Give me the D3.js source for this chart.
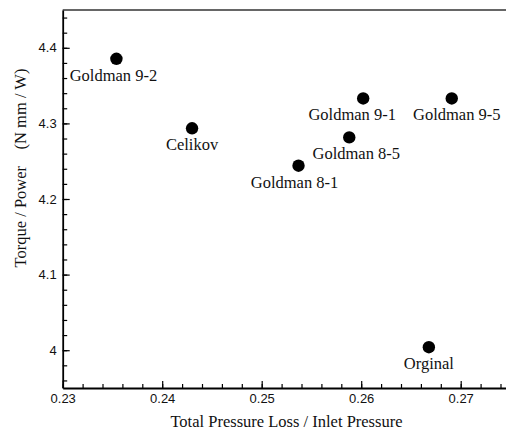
<!DOCTYPE html>
<html>
<head>
<meta charset="utf-8">
<script src="https://cdn.jsdelivr.net/npm/d3@7"></script>
<style>
  html, body { margin: 0; padding: 0; background: #fff; }
  svg { display: block; }
</style>
</head>
<body>
<script>
// ---- data ----
const names = ["Goldman 9-2", "Celikov", "Goldman 8-1", "Goldman 8-5", "Goldman 9-1", "Goldman 9-5", "Orginal"];
const pressureLoss = [0.2354, 0.2430, 0.2537, 0.2588, 0.2602, 0.2691, 0.2668];
const torquePower = [4.3855, 4.2935, 4.2440, 4.2815, 4.3330, 4.3330, 4.0040];
const xTickValues = [0.23, 0.24, 0.25, 0.26, 0.27];
const xTickLabels = ["0.23", "0.24", "0.25", "0.26", "0.27"];
const yTickValues = [4.0, 4.1, 4.2, 4.3, 4.4];
const yTickLabels = ["4", "4.1", "4.2", "4.3", "4.4"];
const xTitle = "Total Pressure Loss / Inlet Pressure";
const yTitle = "Torque / Power    (N mm / W)";

(function () {
// ---- layout (not data) ----
const W = 506, H = 432;
const mLeft = 62.7, mTop = 10, mBottom = 388;
const labelShift = {"Goldman 9-2": -3, "Celikov": 0, "Goldman 8-1": -4, "Goldman 8-5": 7, "Goldman 9-1": -11, "Goldman 9-5": 5, "Orginal": 0};

const x = d3.scaleLinear().domain([0.23, 0.275]).range([mLeft, mLeft + 0.045 * 9950]);
const y = d3.scaleLinear().domain([3.95, 4.45]).range([mBottom, mTop]);

const svg = d3.select("body").append("svg").attr("width", W).attr("height", H);

// top frame line
svg.append("line")
  .attr("x1", mLeft).attr("x2", W).attr("y1", mTop).attr("y2", mTop)
  .attr("stroke", "#666").attr("stroke-width", 2);

// minor ticks
const xMinor = d3.range(0.23, 0.2751, 0.002).map(v => +v.toFixed(3));
const yMinor = d3.range(3.96, 4.4501, 0.02).map(v => +v.toFixed(2));

svg.append("g").attr("transform", `translate(0,${mBottom})`)
  .call(d3.axisBottom(x).tickValues(xMinor).tickSize(-4).tickSizeOuter(0).tickFormat(""))
  .call(g => g.select(".domain").remove())
  .selectAll("line").attr("stroke", "#000").attr("stroke-width", 1.2);

svg.append("g").attr("transform", `translate(${mLeft},0)`)
  .call(d3.axisLeft(y).tickValues(yMinor).tickSize(-4.5).tickSizeOuter(0).tickFormat(""))
  .call(g => g.select(".domain").remove())
  .selectAll("line").attr("stroke", "#000").attr("stroke-width", 1.2);

// major axes
const xAxis = svg.append("g").attr("transform", `translate(0,${mBottom})`)
  .call(d3.axisBottom(x).tickValues(xTickValues).tickSize(-7).tickSizeOuter(0).tickPadding(6)
    .tickFormat((d, i) => xTickLabels[i]));
const yAxis = svg.append("g").attr("transform", `translate(${mLeft},0)`)
  .call(d3.axisLeft(y).tickValues(yTickValues).tickSize(-7).tickSizeOuter(0).tickPadding(6)
    .tickFormat((d, i) => yTickLabels[i]));

[xAxis, yAxis].forEach(g => {
  g.select(".domain").attr("stroke", "#000").attr("stroke-width", 1.8);
  g.selectAll(".tick line").attr("stroke", "#000").attr("stroke-width", 1.2);
  g.selectAll(".tick text").attr("font-family", "'Liberation Sans', Arial, sans-serif")
    .attr("font-size", 13).attr("fill", "#111");
});

// points
const pts = names.map((n, i) => ({name: n, x: pressureLoss[i], y: torquePower[i]}));
svg.append("g").selectAll("circle").data(pts).join("circle")
  .attr("cx", d => x(d.x)).attr("cy", d => y(d.y)).attr("r", 6.2).attr("fill", "#000");

svg.append("g").selectAll("text").data(pts).join("text")
  .attr("x", d => x(d.x) + labelShift[d.name]).attr("y", d => y(d.y) + 22)
  .attr("text-anchor", "middle")
  .attr("font-family", "'Liberation Serif', 'Times New Roman', serif")
  .attr("font-size", 16.5).attr("fill", "#111")
  .text(d => d.name);

// axis titles
svg.append("text")
  .attr("x", 286.5).attr("y", 427)
  .attr("text-anchor", "middle")
  .attr("font-family", "'Liberation Serif', 'Times New Roman', serif")
  .attr("font-size", 16.5).attr("fill", "#111")
  .text(xTitle);

svg.append("text")
  .attr("transform", "translate(26,168) rotate(-90)")
  .attr("text-anchor", "middle")
  .attr("font-family", "'Liberation Serif', 'Times New Roman', serif")
  .attr("font-size", 16.5).attr("fill", "#111")
  .style("white-space", "pre")
  .text(yTitle);
})();
</script>
</body>
</html>
